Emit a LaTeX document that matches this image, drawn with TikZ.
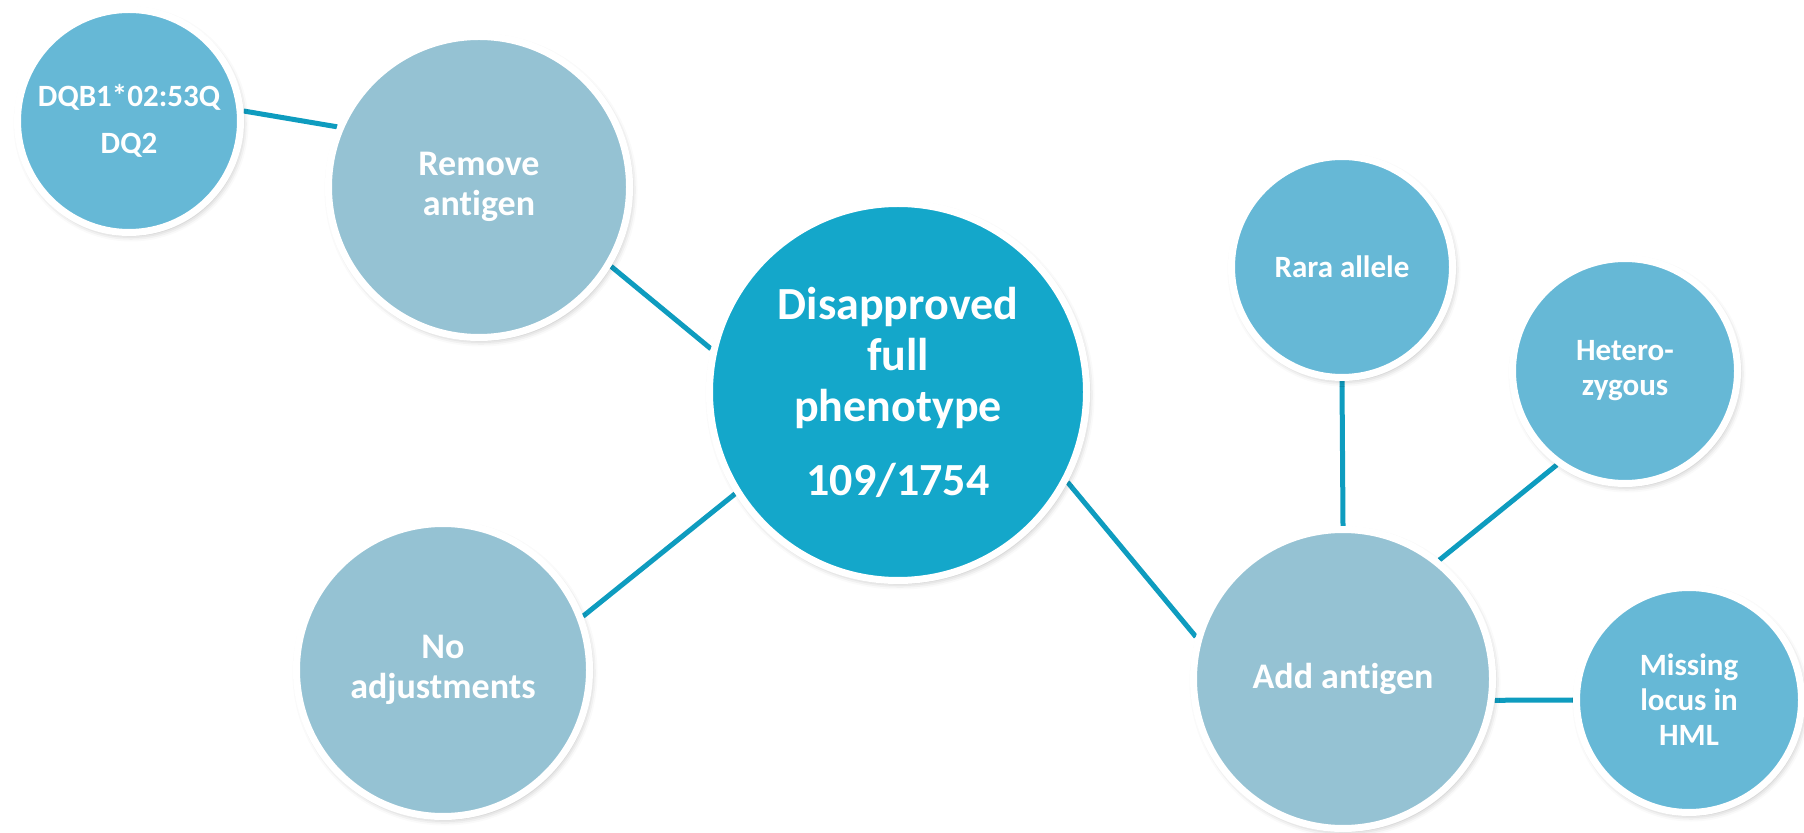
\documentclass[tikz,border=0pt]{standalone}
\usepackage{fontspec}
\setmainfont{Carlito}[Ligatures=NoCommon]
\usetikzlibrary{shadows.blur,backgrounds}

\definecolor{hubfill}{RGB}{20,167,202}
\definecolor{midfill}{RGB}{149,194,211}
\definecolor{leaffill}{RGB}{102,184,214}
\definecolor{wirecol}{RGB}{14,156,191}

\begin{document}
\begin{tikzpicture}[x=0.5pt,y=-0.5pt,
  bubble/.style={circle, draw=white, line width=3.5pt, inner sep=0pt,
    text=white, align=center,
    blur shadow={shadow xshift=1pt, shadow yshift=-1.5pt,
      shadow blur radius=3pt, shadow opacity=30}},
  hubnode/.style={bubble, fill=hubfill,
    font=\bfseries\fontsize{23}{25.5}\selectfont},
  midnode/.style={bubble, fill=midfill,
    font=\bfseries\fontsize{18}{20}\selectfont},
  leafnode/.style={bubble, fill=leaffill,
    font=\bfseries\fontsize{15.5}{17.5}\selectfont},
  wire/.style={draw=wirecol, line width=2.5pt}]

\useasboundingbox (0,0) rectangle (1804,833);

% central circle
\node[hubnode, minimum size=188.5pt] (hub) at (898,392)
  {Disapproved\\full\\phenotype\\[11.5pt]109/1754};

% first ring
\node[midnode, minimum size=150.5pt] (remove) at (479,187) {Remove\\antigen};
\node[midnode, minimum size=146.5pt] (noadj) at (443,670) {No\\adjustments};
\node[midnode, minimum size=149.5pt] (add) at (1343,679) {Add antigen};

% outer leaves
\node[leafnode, minimum size=111.5pt] (dqb) at (129,121)
  {DQB1*02:53Q\\[6pt]DQ2};
\node[leafnode, minimum size=110.5pt] (rara) at (1342,267) {Rara allele};
\node[leafnode, minimum size=112.5pt] (hetero) at (1625,371) {Hetero-\\zygous};
\node[leafnode, minimum size=112.5pt] (missing) at (1689,700)
  {Missing\\locus in\\HML};

% connectors behind the circles
\begin{scope}[on background layer]
  \draw[wire] (dqb.5) -- (remove.157);
  \draw[wire] (remove.-31) -- (hub.167);
  \draw[wire] (hub.212) -- (noadj.21);
  \draw[wire] (hub.-28) -- (add.164);
  \draw[wire] (add.90) -- (rara.-90);
  \draw[wire] (add.51) -- (hetero.234);
  \draw[wire] (add.-8) -- (missing.180);
\end{scope}
\end{tikzpicture}
\end{document}
